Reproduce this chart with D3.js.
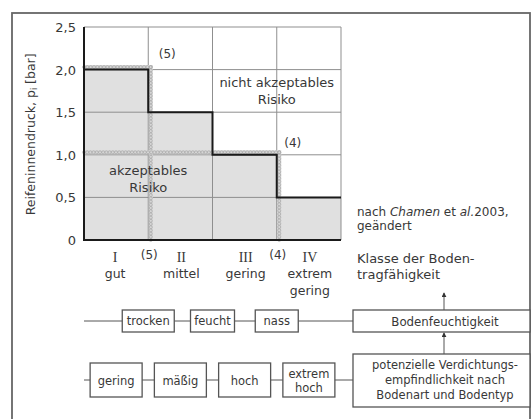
<!DOCTYPE html>
<html><head><meta charset="utf-8">
<script src="https://cdn.jsdelivr.net/npm/d3@7"></script>
<style>body{margin:0;background:#fff}svg{display:block}text{font-family:"DejaVu Sans",sans-serif;fill:#383838}</style>
</head><body><svg id="c" width="531" height="419"></svg>
<script>
const classes = ["I","II","III","IV"];
const classNames = [["gut"],["mittel"],["gering"],["extrem","gering"]];
const pressure = [2.0, 1.5, 1.0, 0.5];
const yTicks = [0, 0.5, 1.0, 1.5, 2.0, 2.5];
const boundaryLabels = ["(5)", "(4)"];
const boundaryValues = [2.0, 1.0];
const boundaryClassEdge = [1, 3];
const moisture = ["trocken","feucht","nass"];
const sensitivity = [["gering"],["mäßig"],["hoch"],["extrem","hoch"]];

const svg = d3.select("#c");
// outer frame
svg.append("rect").attr("x",12).attr("y",13).attr("width",518).attr("height",440)
  .attr("fill","none").attr("stroke","#666").attr("stroke-width",1.8);

const x = d3.scaleLinear().domain([0, classes.length]).range([84, 341]);
const y = d3.scaleLinear().domain([0, 2.5]).range([240, 27]);
const g = svg.append("g");

// gray fill under step
const stepPts = [];
pressure.forEach((p,i)=>{ stepPts.push([x(i), y(p)]); stepPts.push([x(i+1), y(p)]); });
const area = [[x(0), y(0)], ...stepPts, [x(classes.length), y(0)]];
g.append("path").attr("d", d3.line()(area)).attr("fill","#e0e0e0");

// grid
g.selectAll(".hg").data(yTicks).join("line")
  .attr("x1",x(0)).attr("x2",x(4)).attr("y1",d=>y(d)).attr("y2",d=>y(d))
  .attr("stroke","#8f8f8f").attr("stroke-width",1);
g.selectAll(".vg").data(d3.range(classes.length+1)).join("line")
  .attr("x1",d=>x(d)).attr("x2",d=>x(d)).attr("y1",y(0)).attr("y2",y(2.5))
  .attr("stroke","#8f8f8f").attr("stroke-width",1);

// hatched boundaries
function hatched(pts){
  const p = g.append("g");
  p.append("path").attr("d", d3.line()(pts)).attr("fill","none")
    .attr("stroke","#d6d6d6").attr("stroke-width",4);
  for(let k=0;k<pts.length-1;k++){
    const [x0,y0]=pts[k],[x1,y1]=pts[k+1];
    const len=Math.hypot(x1-x0,y1-y0), n=Math.floor(len/3.2);
    for(let j=0;j<=n;j++){
      const t=j/n;
      p.append("circle").attr("cx",x0+(x1-x0)*t).attr("cy",y0+(y1-y0)*t).attr("r",1.5)
        .attr("fill","none").attr("stroke","#a8a8a8").attr("stroke-width",0.7);
    }
  }
}
boundaryValues.forEach((v,i)=>{
  const xe = x(boundaryClassEdge[i]) + 2.5, yy = y(v) - 2.5;
  hatched([[x(0), yy],[xe, yy],[xe, y(0)]]);
});

// step line
g.append("path").attr("d", d3.line()(stepPts)).attr("fill","none")
  .attr("stroke","#1a1a1a").attr("stroke-width",2);
// axes
g.append("line").attr("x1",x(0)).attr("x2",x(0)).attr("y1",y(2.5)).attr("y2",y(0)).attr("stroke","#1a1a1a").attr("stroke-width",2);
g.append("line").attr("x1",x(0)-1).attr("x2",x(4)).attr("y1",y(0)).attr("y2",y(0)).attr("stroke","#1a1a1a").attr("stroke-width",2);

// y tick labels
g.selectAll(".yl").data(yTicks).join("text")
  .attr("x",76).attr("y",d=>y(d)+5).attr("text-anchor","end").attr("font-size",13)
  .text(d=> d===0 ? "0" : d3.format(".1f")(d).replace(".",","));

// y title
const yt = g.append("text").attr("transform",`translate(35,${y(1.24)}) rotate(-90)`)
  .attr("text-anchor","middle").attr("font-size",12.5);
yt.append("tspan").text("Reifeninnendruck, p");
yt.append("tspan").attr("font-size",8).attr("dy",2).text("i");
yt.append("tspan").attr("dy",-2).text(" [bar]");

// x labels
classes.forEach((c,i)=>{
  const cx = x(i+0.5) + (i===0 ? -1 : 1);
  g.append("text").attr("x",cx).attr("y",262).attr("text-anchor","middle")
    .attr("font-size",14).style("font-family","'Liberation Serif',serif").text(c);
  classNames[i].forEach((n,j)=>{
    g.append("text").attr("x",cx).attr("y",278+j*17).attr("text-anchor","middle")
      .attr("font-size",12.5).text(n);
  });
});
boundaryLabels.forEach((b,i)=>{
  g.append("text").attr("x",x(boundaryClassEdge[i])+1).attr("y",259).attr("text-anchor","middle")
    .attr("font-size",12).text(b);
});
// boundary labels inside plot
g.append("text").attr("x",x(1)+19).attr("y",y(2.2)+5).attr("text-anchor","middle").attr("font-size",12).text(boundaryLabels[0]);
g.append("text").attr("x",x(3)+16).attr("y",y(1.15)+5).attr("text-anchor","middle").attr("font-size",12).text(boundaryLabels[1]);

// region texts
[["nicht akzeptables","Risiko", x(3), 87],["akzeptables","Risiko", x(1), 175]].forEach(([a,b,cx,cy])=>{
  g.append("text").attr("x",cx).attr("y",cy).attr("text-anchor","middle").attr("font-size",13).text(a);
  g.append("text").attr("x",cx).attr("y",cy+17).attr("text-anchor","middle").attr("font-size",13).text(b);
});

// source note
const src = g.append("text").attr("x",357).attr("y",216).attr("font-size",12);
src.append("tspan").text("nach ");
src.append("tspan").attr("font-style","italic").text("Chamen");
src.append("tspan").text(" et ");
src.append("tspan").attr("font-style","italic").text("al.");
src.append("tspan").text("2003,");
g.append("text").attr("x",357).attr("y",230).attr("font-size",12).text("geändert");

g.append("text").attr("x",357).attr("y",263).attr("font-size",13).text("Klasse der Boden-");
g.append("text").attr("x",357).attr("y",279).attr("font-size",13).text("tragfähigkeit");

// diagram rows
const row1Y = 321, row2Y = 380;
const box1W = [52,44,43];
g.append("line").attr("x1",84).attr("x2",353).attr("y1",row1Y).attr("y2",row1Y).attr("stroke","#555").attr("stroke-width",1);
g.append("line").attr("x1",84).attr("x2",353).attr("y1",row2Y).attr("y2",row2Y).attr("stroke","#555").attr("stroke-width",1);
moisture.forEach((m,i)=>{
  const cx = x(i+1), w = box1W[i];
  g.append("rect").attr("x",cx-w/2).attr("y",310).attr("width",w).attr("height",22)
    .attr("fill","#fff").attr("stroke","#555").attr("stroke-width",1.3);
  g.append("text").attr("x",cx).attr("y",325).attr("text-anchor","middle").attr("font-size",11.5).text(m);
});
sensitivity.forEach((s,i)=>{
  const cx = x(i+0.5), w = 52;
  g.append("rect").attr("x",cx-w/2).attr("y",363).attr("width",w).attr("height",34)
    .attr("fill","#fff").attr("stroke","#555").attr("stroke-width",1.3);
  s.forEach((t,j)=>{
    g.append("text").attr("x",cx).attr("y",385+(j-(s.length-1)/2)*13.5).attr("text-anchor","middle").attr("font-size",11.5).text(t);
  });
});
// right boxes
g.append("rect").attr("x",353).attr("y",310).attr("width",177).attr("height",22)
  .attr("fill","#fff").attr("stroke","#555").attr("stroke-width",1.3);
g.append("text").attr("x",445).attr("y",326).attr("text-anchor","middle").attr("font-size",11.8).text("Bodenfeuchtigkeit");
g.append("rect").attr("x",353).attr("y",354).attr("width",177).attr("height",53)
  .attr("fill","#fff").attr("stroke","#555").attr("stroke-width",1.3);
["potenzielle Verdichtungs-","empfindlichkeit nach","Bodenart und Bodentyp"].forEach((t,j)=>{
  g.append("text").attr("x",445).attr("y",368.5+j*15).attr("text-anchor","middle").attr("font-size",11.5).text(t);
});
// arrows
svg.append("defs").append("marker").attr("id","ah").attr("viewBox","0 0 6 6").attr("refX",5).attr("refY",3)
  .attr("markerWidth",5).attr("markerHeight",5).attr("orient","auto")
  .append("path").attr("d","M0,0L6,3L0,6Z").attr("fill","#333");
g.append("line").attr("x1",444).attr("x2",444).attr("y1",310).attr("y2",293).attr("stroke","#555").attr("marker-end","url(#ah)");
g.append("line").attr("x1",444).attr("x2",444).attr("y1",354).attr("y2",333).attr("stroke","#555").attr("marker-end","url(#ah)");
</script></body></html>
